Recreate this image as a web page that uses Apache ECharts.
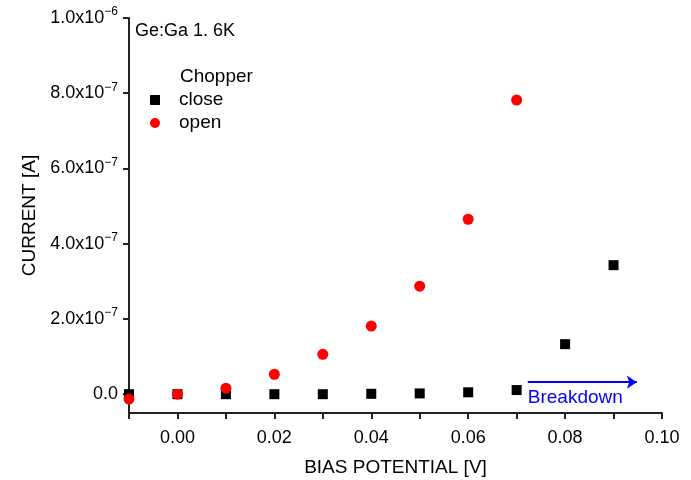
<!DOCTYPE html>
<html>
<head>
<meta charset="utf-8">
<script src="https://cdn.jsdelivr.net/npm/echarts@6/dist/echarts.min.js"></script>
<style>
  html, body { margin: 0; padding: 0; background: #fff; }
  #chart { width: 691px; height: 480px; }
</style>
</head>
<body>
<div id="chart"></div>
<script>
// bias potential [V]
const biasOpen = [-0.01, 0.00, 0.01, 0.02, 0.03, 0.04, 0.05, 0.06, 0.07]
const currentOpen = [-1.3e-8, 0, 1.6e-8, 5.3e-8, 1.06e-7, 1.81e-7, 2.87e-7, 4.65e-7, 7.82e-7]

const biasClose = [-0.01, 0.00, 0.01, 0.02, 0.03, 0.04, 0.05, 0.06, 0.07, 0.08, 0.09]
const currentClose = [0, 0, 0, 0, 0, 1e-9, 2e-9, 5e-9, 1.1e-8, 1.33e-7, 3.43e-7]

// tick positions
const xLabelTicks = [0, 0.02, 0.04, 0.06, 0.08, 0.1]
const xMinorTicks = [-0.01, 0, 0.01, 0.02, 0.03, 0.04, 0.05, 0.06, 0.07, 0.08, 0.09, 0.1]
const yTicks = [0, 2e-7, 4e-7, 6e-7, 8e-7, 1e-6]

// breakdown arrow (data space)
const breakdownFrom = [0.0723, 3.2e-8]
const breakdownTo = [0.0948, 3.2e-8]

const font = 'Liberation Sans, Arial, sans-serif'

const zip = (xs, ys) => xs.map((x, i) => [x, ys[i]])

const yLabel = (v) => {
  if (v === 0) return '0.0'
  const exp = Math.floor(Math.log10(v) + 1e-9)
  const mant = (v / Math.pow(10, exp)).toFixed(1)
  return mant + 'x10{sup|\u2212' + (-exp) + '}'
}

const chart = echarts.init(document.getElementById('chart'))
chart.setOption({
  animation: false,
  textStyle: { fontFamily: font },
  title: [
    {
      text: 'Ge:Ga 1. 6K',
      left: 135, top: 22, padding: 0,
      textStyle: { fontSize: 18, fontWeight: 'normal', color: '#000', fontFamily: font }
    },
    {
      text: 'Chopper',
      left: 180, top: 67, padding: 0,
      textStyle: { fontSize: 19, fontWeight: 'normal', color: '#000', fontFamily: font }
    }
  ],
  legend: {
    orient: 'vertical',
    left: 150, top: 90, padding: 0,
    itemGap: 3,
    itemWidth: 10, itemHeight: 10,
    textStyle: { fontSize: 19, lineHeight: 20, color: '#000', fontFamily: font, padding: [0, 0, 0, 14] },
    data: [
      { name: 'close', icon: 'rect' },
      { name: 'open', icon: 'circle' }
    ]
  },
  grid: { left: 129, right: 29, top: 18, bottom: 67, outerBoundsMode: 'none' },
  xAxis: {
    type: 'value',
    min: -0.01, max: 0.1,
    name: 'BIAS POTENTIAL [V]',
    nameLocation: 'middle',
    nameGap: 45,
    nameTextStyle: { fontSize: 19, color: '#000', fontFamily: font },
    splitLine: { show: false },
    axisLine: { onZero: false, lineStyle: { color: '#222', width: 2 } },
    axisTick: { show: true, length: 6, customValues: xMinorTicks, lineStyle: { color: '#222', width: 2 } },
    axisLabel: {
      customValues: xLabelTicks,
      fontSize: 18, color: '#000', margin: 16,
      formatter: (v) => v.toFixed(2)
    }
  },
  yAxis: {
    type: 'value',
    min: -5e-8, max: 1e-6,
    name: 'CURRENT [A]',
    nameLocation: 'middle',
    nameGap: 89,
    nameRotate: 90,
    nameTextStyle: { fontSize: 19, color: '#000', fontFamily: font },
    splitLine: { show: false },
    axisLine: { show: true, onZero: false, lineStyle: { color: '#222', width: 2 } },
    axisTick: { show: true, length: 6, customValues: yTicks, lineStyle: { color: '#222', width: 2 } },
    axisLabel: {
      customValues: yTicks,
      fontSize: 18, color: '#000', margin: 11,
      formatter: yLabel,
      rich: {
        sup: { fontSize: 12, verticalAlign: 'top', padding: [0, 0, 12, 0], color: '#000' }
      }
    }
  },
  series: [
    {
      name: 'close',
      type: 'scatter',
      symbol: 'rect',
      symbolSize: 10,
      itemStyle: { color: '#000', opacity: 1 },
      data: zip(biasClose, currentClose),
      z: 3
    },
    {
      name: 'open',
      type: 'scatter',
      symbol: 'circle',
      symbolSize: 11,
      itemStyle: { color: '#ff0000', opacity: 1 },
      data: zip(biasOpen, currentOpen),
      z: 4,
      markLine: {
        silent: true,
        symbol: ['none', 'arrow'],
        symbolSize: [10, 10],
        lineStyle: { color: '#0000ff', width: 2, type: 'solid' },
        label: {
          show: true,
          position: 'insideStartBottom',
          formatter: 'Breakdown',
          color: '#0000ff',
          fontSize: 19,
          fontFamily: font,
          distance: [0, 6]
        },
        data: [[{ coord: breakdownFrom }, { coord: breakdownTo }]]
      }
    }
  ]
})
</script>
</body>
</html>
